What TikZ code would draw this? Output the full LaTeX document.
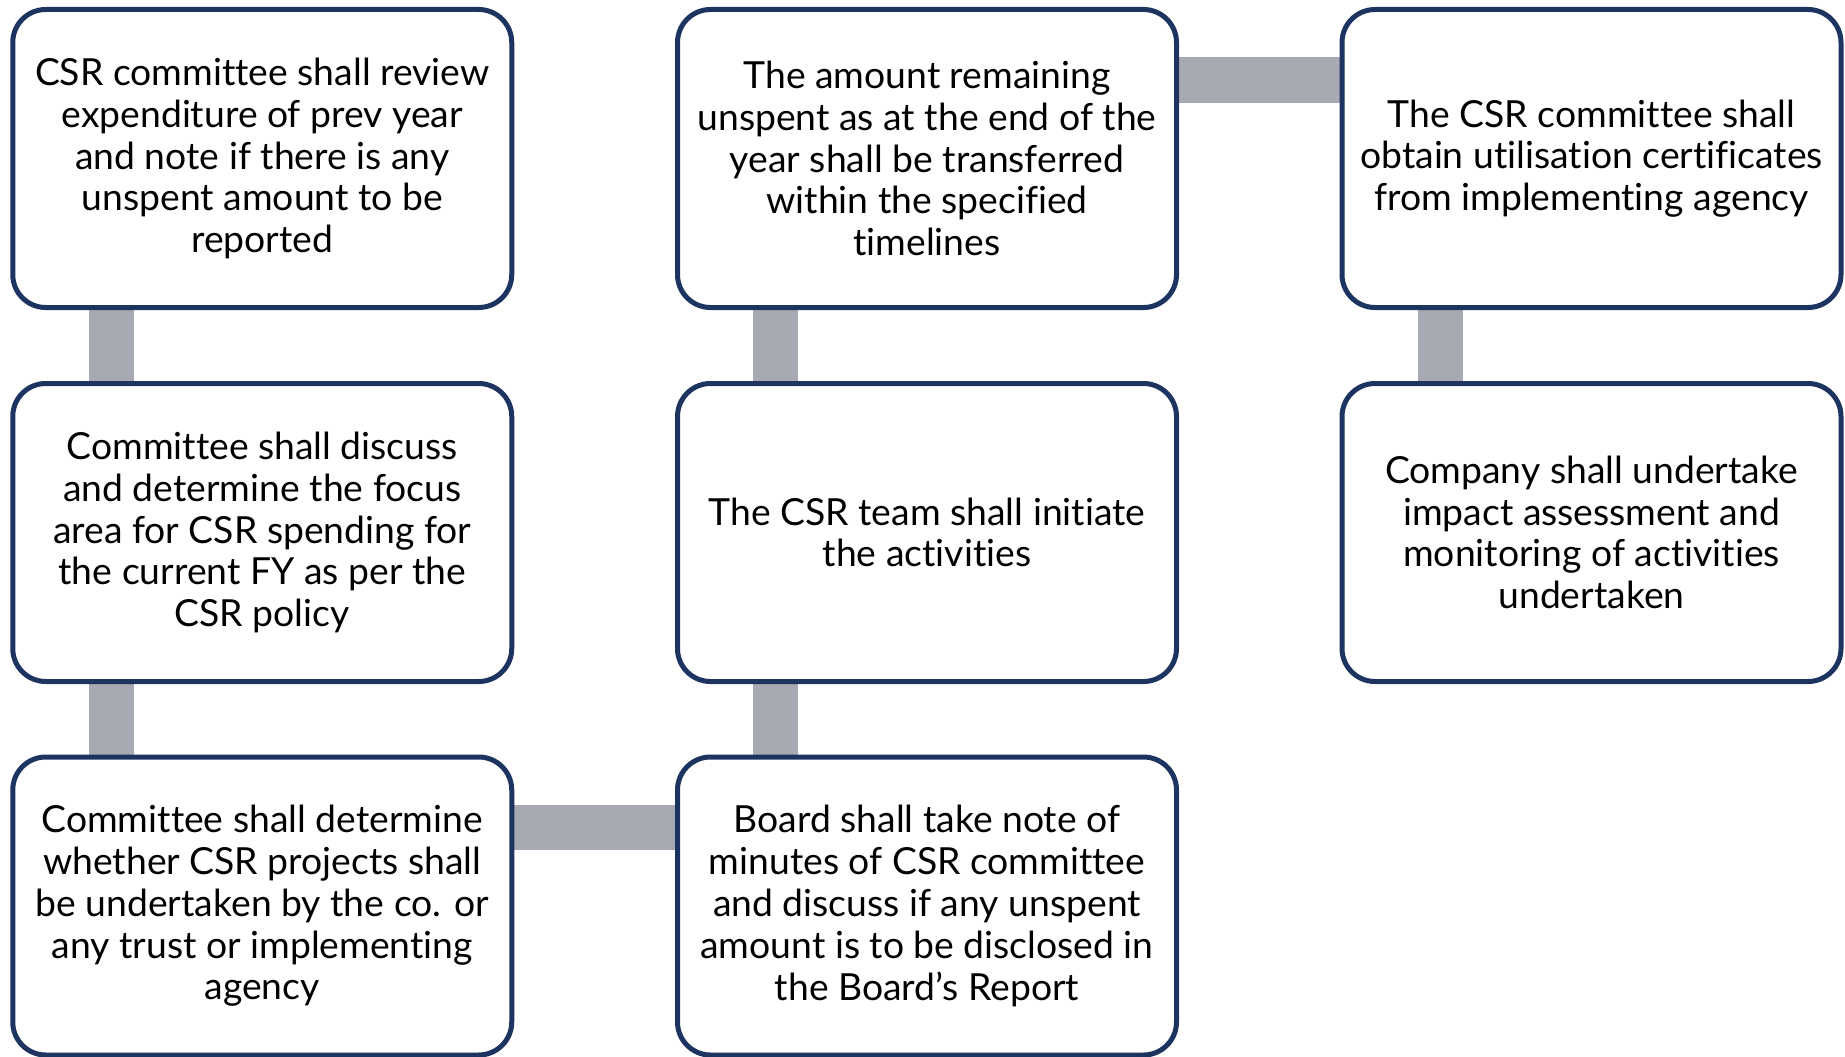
\documentclass[tikz,border=0pt]{standalone}
\usepackage{fontspec}
\setmainfont{Lato}[Ligatures={CommonOff}]
\usetikzlibrary{calc,backgrounds}
\definecolor{navy}{HTML}{1D3461}
\definecolor{linkgray}{HTML}{A7AAB2}
\tikzset{
  box/.style={draw=navy, line width=5pt, rounded corners=33pt, fill=white,
    minimum width=499pt, minimum height=298pt, align=center, inner sep=0pt,
    font=\fontsize{37.3}{41.8}\selectfont, text=black},
  link/.style={draw=linkgray, line width=45pt, line cap=butt}
}
\begin{document}
\begin{tikzpicture}[x=1pt,y=-1pt]
\useasboundingbox (0,0) rectangle (1845,1057);
\node[box] (a1) at (262.25,158.5) {CSR committee shall review\\expenditure of prev year\\and note if there is any\\unspent amount to be\\reported};
\node[box] (a2) at (262.25,532.5) {Committee shall discuss\\and determine the focus\\area for CSR spending for\\the current FY as per the\\CSR policy};
\node[box] (a3) at (262.25,906) {Committee shall determine\\whether CSR projects shall\\be undertaken by the co. or\\any trust or implementing\\agency};
\node[box] (b3) at (927,906) {Board shall take note of\\minutes of CSR committee\\and discuss if any unspent\\amount is to be disclosed in\\the Board’s Report};
\node[box] (b2) at (927,532.5) {The CSR team shall initiate\\the activities};
\node[box] (b1) at (927,158.5) {The amount remaining\\unspent as at the end of the\\year shall be transferred\\within the specified\\timelines};
\node[box] (c1) at (1591.5,158.5) {The CSR committee shall\\obtain utilisation certificates\\from implementing agency};
\node[box] (c2) at (1591.5,532.5) {Company shall undertake\\impact assessment and\\monitoring of activities\\undertaken};
\begin{scope}[on background layer]
\draw[link] ($(a1.south west)+(101,0)$) -- ($(a2.north west)+(101,0)$);
\draw[link] ($(a2.south west)+(101,0)$) -- ($(a3.north west)+(101,0)$);
\draw[link] ($(a3.north east)+(0,73)$) -- ($(b3.north west)+(0,73)$);
\draw[link] ($(b3.north west)+(100,0)$) -- ($(b2.south west)+(100,0)$);
\draw[link] ($(b2.north west)+(100,0)$) -- ($(b1.south west)+(100,0)$);
\draw[link] ($(b1.north east)+(0,73)$) -- ($(c1.north west)+(0,73)$);
\draw[link] ($(c1.south west)+(101,0)$) -- ($(c2.north west)+(101,0)$);
\end{scope}
\end{tikzpicture}
\end{document}
